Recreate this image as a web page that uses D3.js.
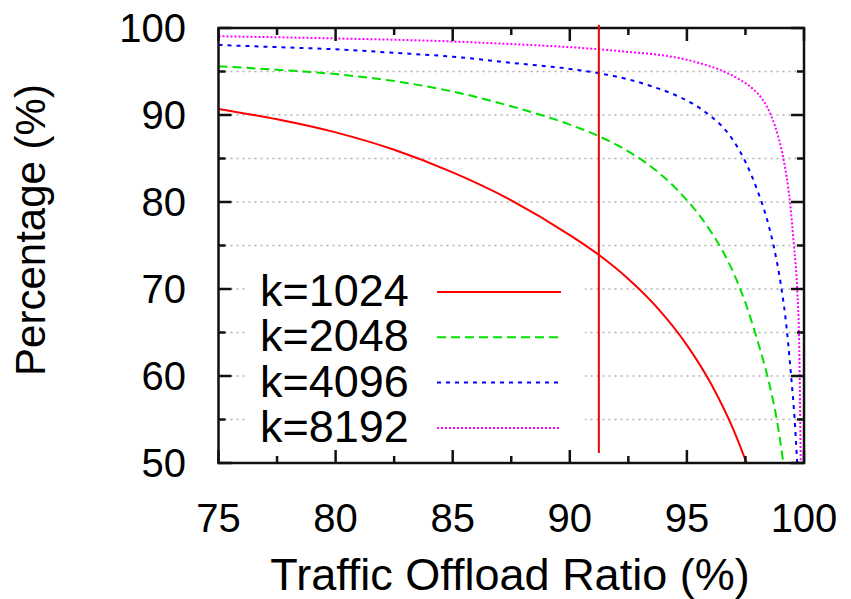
<!DOCTYPE html>
<html>
<head>
<meta charset="utf-8">
<script src="https://cdn.jsdelivr.net/npm/d3@7"></script>
<style>
  body { margin: 0; background: #fff; }
  text { font-family: "Liberation Sans", Arial, Helvetica, sans-serif; fill: #000; }
</style>
</head>
<body>
<svg id="chart" width="851" height="599"></svg>
<script>
// offload ratio (%) vs percentage (%)
const k1024X = [75, 77.5, 80, 82.5, 85, 87.5, 90, 91.25, 92.5, 93.75, 95, 96, 97, 97.55]
const k1024Y = [90.7, 89.5, 88.0, 86.0, 83.4, 80.2, 76.2, 73.9, 71.15, 67.8, 63.55, 59.25, 53.75, 50]

const k2048X = [75, 77.5, 80, 82.5, 85, 87.5, 90, 91.25, 92.25, 93.25, 94.25, 95, 95.5, 96, 96.5, 97, 97.5, 98, 98.5, 98.85, 99.12]
const k2048Y = [95.6, 95.2, 94.7, 93.9, 92.7, 91.0, 88.9, 87.55, 86.2, 84.5, 82.3, 80.2, 78.6, 76.7, 74.5, 71.8, 68.4, 64.2, 59.3, 54.8, 50]

const k4096X = [75, 77.5, 80, 82.5, 85, 87.5, 90, 91.25, 92.5, 93.5, 94.5, 95.25, 96, 96.5, 97, 97.5, 98, 98.4, 98.7, 99, 99.2, 99.45, 99.6, 99.71]
const k4096Y = [98.05, 97.8, 97.55, 97.15, 96.7, 96.0, 95.3, 94.8, 94.1, 93.3, 92.3, 91.3, 89.9, 88.7, 87.0, 84.6, 81.4, 78.2, 75.0, 70.7, 66.9, 60.0, 55.0, 50]

const k8192X = [75, 80, 85, 87.5, 90, 91.25, 92.5, 93.85, 95, 95.56, 96.2, 96.7, 97.3, 97.84, 98.25, 98.6, 98.9, 99.12, 99.4, 99.57, 99.71, 99.8, 99.86]
const k8192Y = [99.05, 98.8, 98.45, 98.15, 97.8, 97.55, 97.25, 96.9, 96.35, 95.95, 95.4, 94.85, 94.0, 92.95, 91.7, 89.9, 87.5, 85.0, 80.0, 75.0, 69.9, 63.0, 50]

const seriesNames = ["k=1024", "k=2048", "k=4096", "k=8192"]
const seriesColors = ["#ff0000", "#00e000", "#0000ff", "#ff00ff"]
const seriesDash = [null, "9,5", "4,5", "2,2"]

const xTicks = [75, 80, 85, 90, 95, 100]
const yTicks = [50, 60, 70, 80, 90, 100]
const markerX = 91.24   // vertical red marker

const xLabel = "Traffic Offload Ratio (%)"
const yLabel = "Percentage (%)"

const series = [
  d3.zip(k1024X, k1024Y),
  d3.zip(k2048X, k2048Y),
  d3.zip(k4096X, k4096Y),
  d3.zip(k8192X, k8192Y)
]

const plotLeft = 218.5, plotRight = 804, plotTop = 28, plotBottom = 463
const x = d3.scaleLinear().domain([75, 100]).range([plotLeft, plotRight])
const y = d3.scaleLinear().domain([50, 100]).range([plotBottom, plotTop])

const svg = d3.select("#chart")

// horizontal dotted grid every 5
svg.append("g").selectAll("line")
  .data(d3.range(55, 100, 5))
  .join("line")
  .attr("x1", plotLeft).attr("x2", plotRight)
  .attr("y1", d => y(d)).attr("y2", d => y(d))
  .attr("stroke", "#b0b0b0").attr("stroke-width", 1.5)
  .attr("stroke-dasharray", "2,4")

const defs = svg.append("defs")
defs.append("clipPath").attr("id", "plotclip")
  .append("rect").attr("x", plotLeft).attr("y", plotTop)
  .attr("width", plotRight - plotLeft).attr("height", plotBottom - plotTop)

// legend box hides grid behind it
svg.append("rect").attr("x", 247).attr("y", 262).attr("width", 338).attr("height", plotBottom - 262)
  .attr("fill", "#fff")

const line = d3.line().x(d => x(d[0])).y(d => y(d[1])).curve(d3.curveMonotoneX)

svg.append("g").attr("clip-path", "url(#plotclip)")
  .selectAll("path")
  .data(series)
  .join("path")
  .attr("d", line)
  .attr("fill", "none")
  .attr("stroke", (d, i) => seriesColors[i])
  .attr("stroke-width", 2)
  .attr("stroke-dasharray", (d, i) => seriesDash[i])

// legend
const leg = svg.append("g")
seriesNames.forEach((name, i) => {
  const base = 306 + i * 45.3
  leg.append("text").attr("x", 260).attr("y", base)
    .attr("font-size", 45).text(name)
  leg.append("line").attr("x1", 437).attr("x2", 561)
    .attr("y1", base - 14).attr("y2", base - 14)
    .attr("stroke", seriesColors[i]).attr("stroke-width", 2)
    .attr("stroke-dasharray", seriesDash[i])
})

// axes: inward ticks on all four sides
const tickLen = 13, minorLen = 7
const xMinor = d3.range(77.5, 100, 5)
const yMinor = d3.range(55, 100, 10)
const axes = svg.append("g").attr("stroke", "#111").attr("stroke-width", 2.5)

function xTick(v, len) {
  axes.append("line").attr("x1", x(v)).attr("x2", x(v)).attr("y1", plotBottom).attr("y2", plotBottom - len)
  axes.append("line").attr("x1", x(v)).attr("x2", x(v)).attr("y1", plotTop).attr("y2", plotTop + len)
}
function yTick(v, len) {
  axes.append("line").attr("y1", y(v)).attr("y2", y(v)).attr("x1", plotLeft).attr("x2", plotLeft + len)
  axes.append("line").attr("y1", y(v)).attr("y2", y(v)).attr("x1", plotRight).attr("x2", plotRight - len)
}
xTicks.forEach(v => xTick(v, tickLen))
xMinor.forEach(v => xTick(v, minorLen))
yTicks.forEach(v => yTick(v, tickLen))
yMinor.forEach(v => yTick(v, minorLen))

axes.append("rect").attr("x", plotLeft).attr("y", plotTop)
  .attr("width", plotRight - plotLeft).attr("height", plotBottom - plotTop)
  .attr("fill", "none")

// marker line
svg.append("line").attr("x1", x(markerX)).attr("x2", x(markerX))
  .attr("y1", 25).attr("y2", 453)
  .attr("stroke", "#ee0000").attr("stroke-width", 2)

// tick labels
svg.append("g").selectAll("text").data(xTicks).join("text")
  .attr("x", d => x(d)).attr("y", 532)
  .attr("text-anchor", "middle").attr("font-size", 40)
  .text(d => d)

svg.append("g").selectAll("text").data(yTicks).join("text")
  .attr("x", 186).attr("y", d => y(d)).attr("dy", "0.36em")
  .attr("text-anchor", "end").attr("font-size", 40)
  .text(d => d)

// axis titles
svg.append("text").attr("x", 510).attr("y", 590)
  .attr("text-anchor", "middle").attr("font-size", 45)
  .text(xLabel)

svg.append("text").attr("transform", "translate(45,230) rotate(-90)")
  .attr("text-anchor", "middle").attr("font-size", 42)
  .text(yLabel)
</script>
</body>
</html>
